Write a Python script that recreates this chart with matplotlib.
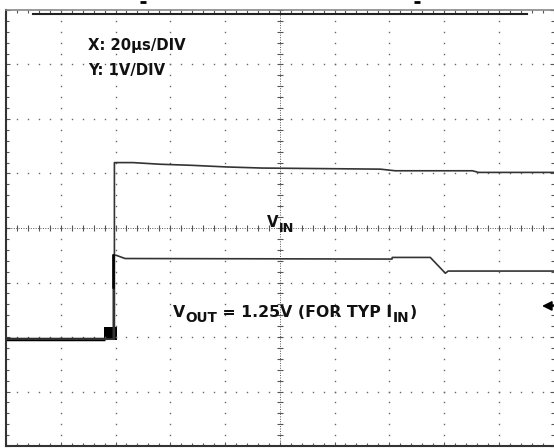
import matplotlib
matplotlib.use("Agg")
import matplotlib.pyplot as plt
from matplotlib.ticker import MultipleLocator
from matplotlib.transforms import offset_copy
import numpy as np

# time in us from left edge of screen (20us/DIV), level in divisions from bottom (1V/DIV)
vin_t = [0, 39.6, 39.6, 46.4, 56.3, 67.9, 80.7, 93.5, 136.7, 142.2, 170.4, 172.6, 200]
vin_v = [1.96, 1.96, 5.20, 5.20, 5.17, 5.15, 5.12, 5.10, 5.08, 5.05, 5.05, 5.02, 5.02]

vout_t = [0, 39.2, 39.2, 40.2, 43.5, 141.0, 141.1, 155.0, 160.5, 161.5, 200]
vout_v = [1.96, 1.96, 3.50, 3.50, 3.44, 3.43, 3.46, 3.46, 3.17, 3.21, 3.21]

base_t = [0, 36]
base_v = [1.96, 1.96]

top_t = [9.9, 190.5]
top_v = [7.92, 7.92]

box_t = [35.8, 40.5]
box_v = [1.94, 2.19]

trig_t = [50.1, 150.3]
gnd_arrow = (195.8, 2.57)

fig = plt.figure(figsize=(5.54, 4.48), dpi=100)
ax = fig.add_axes([6 / 554, 2 / 448, 547.5 / 554, 436 / 448])
ax.set_xlim(0, 200)
ax.set_ylim(0, 8)

# graticule
dot = dict(linestyle="none", marker="s", ms=1.0, color="#666666", mew=0)
ys = np.arange(0, 8.01, 0.2)
xs = np.arange(0, 200.1, 4)
for gx in range(20, 200, 20):
    if gx != 100:
        ax.plot([gx] * len(ys), ys, **dot)
for gy in range(1, 8):
    if gy != 4:
        ax.plot(xs, [gy] * len(xs), **dot)
ax.plot([100, 100], [0, 8], ls=(0, (1, 1.5)), lw=0.7, color="#555555")
ax.plot([0, 200], [4, 4], ls=(0, (1, 1.5)), lw=0.7, color="#555555")
ax.plot([100] * len(ys), ys, linestyle="none", marker="_", ms=5, mew=0.8, color="#555555")
ax.plot(xs, [4] * len(xs), linestyle="none", marker="|", ms=5, mew=0.8, color="#555555")

ax.xaxis.set_major_locator(MultipleLocator(20))
ax.xaxis.set_minor_locator(MultipleLocator(4))
ax.yaxis.set_major_locator(MultipleLocator(1))
ax.yaxis.set_minor_locator(MultipleLocator(0.2))
ax.tick_params(which="both", direction="in", top=True, right=True,
               labelbottom=False, labelleft=False, color="#555555", width=0.8)
ax.tick_params(which="major", length=3)
ax.tick_params(which="minor", length=2.5)
ax.spines["left"].set_color("#333333")
ax.spines["left"].set_linewidth(1.5)
ax.spines["bottom"].set_color("#333333")
ax.spines["bottom"].set_linewidth(1.5)
ax.spines["top"].set_color("#888888")
ax.spines["top"].set_linewidth(1.2)
ax.spines["right"].set_visible(False)

# traces
ax.plot(base_t, base_v, color="black", lw=2.5, solid_capstyle="butt")
ax.plot(vin_t, vin_v, color="#333333", lw=1.2)
ax.plot(vout_t, vout_v, color="#333333", lw=1.2)
ax.plot([39.2, 39.2], [3.50, 2.92], color="black", lw=1.8)
ax.fill_between(box_t, box_v[0], box_v[1], color="black", lw=0)
ax.plot(top_t, top_v, color="#222222", lw=1.5)

ax.plot(trig_t, [8.15, 8.15], linestyle="none", marker="_", ms=4, mew=2,
        color="black", clip_on=False)
ax.annotate("", xy=gnd_arrow, xytext=(203, gnd_arrow[1]), annotation_clip=False,
            arrowprops=dict(arrowstyle="-|>", color="black", lw=1.3, mutation_scale=14,
                            shrinkA=0, shrinkB=0))

# labels
font = dict(family="DejaVu Sans", fontweight="bold", color="#111111")
ax.text(30, 7.27, "X: 20µs/DIV", va="baseline", ha="left", fontsize=10.7, **font)
ax.text(30, 6.80, "Y: 1V/DIV", va="baseline", ha="left", fontsize=10.7, **font)

renderer = fig.canvas.get_renderer()


def label(x, y, parts, size=10.7):
    # parts: (text, is_subscript); laid out left to right in pixels
    dx = 0
    for s, sub in parts:
        tr = offset_copy(ax.transData, fig=fig, x=dx, y=-5 if sub else 0, units="dots")
        t = ax.text(x, y, s, transform=tr, va="baseline", ha="left",
                    fontsize=size * 0.87 if sub else size, **font)
        dx += t.get_window_extent(renderer).width


label(95.4, 4.02, [("V", False), ("IN", True)])
label(61.1, 2.37, [("V", False), ("OUT", True), (" = 1.25V (FOR TYP I", False),
                   ("IN", True), (")", False)], size=11.3)

fig.savefig("out.png", dpi=100)
